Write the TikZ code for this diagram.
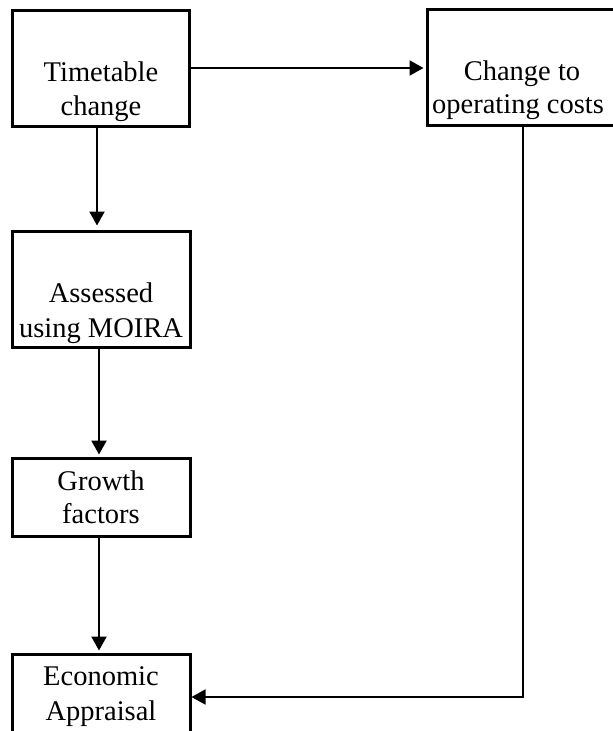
\documentclass[tikz,border=0pt]{standalone}
\usepackage{fontspec}
\setmainfont{Liberation Serif}
\usetikzlibrary{arrows.meta}
\begin{document}
\begin{tikzpicture}[x=1pt,y=-1pt,
  box/.style={draw=black,line width=3pt,rectangle,inner sep=0pt,fill=white},
  lbl/.style={anchor=base,inner sep=0pt,font=\fontsize{28.5}{34}\selectfont},
  arr/.style={draw=black,line width=2.2pt,-{Triangle[length=14pt,width=15pt]}}]
\clip (0,0) rectangle (613,731);
\useasboundingbox (0,0) rectangle (613,731);
% boxes
\node[box,minimum width=177pt,minimum height=116pt] (tt) at (100.5,68) {};
\node[box,minimum width=189pt,minimum height=116pt] (ch) at (521.5,67) {};
\node[box,minimum width=178pt,minimum height=116pt] (as) at (101,289) {};
\node[box,minimum width=178pt,minimum height=78pt] (gr) at (101,497) {};
\node[box,minimum width=178pt,minimum height=86pt] (ec) at (101,697) {};
% labels
\node[lbl] (tt1) at (101,81) {Timetable};
\node[lbl] (tt2) at (101,115) {change};
\node[lbl] (ch1) at (522,80) {Change to};
\node[lbl] (ch2) at (518,113) {operating costs};
\node[lbl] (as1) at (101,302) {Assessed};
\node[lbl] (as2) at (101,337) {using MOIRA};
\node[lbl] (gr1) at (101,490) {Growth};
\node[lbl] (gr2) at (101,523) {factors};
\node[lbl] (ec1) at (101,685) {Economic};
\node[lbl] (ec2) at (101,720) {Appraisal};
% connectors
\draw[arr,shorten >=2pt] ([yshift=0pt]tt.east) -- (tt.east -| ch.west);
\draw[arr,shorten >=4pt] ([xshift=-3.5pt]tt.south) -- ([xshift=-4pt]as.north);
\draw[arr,shorten >=2pt] ([xshift=-2pt]as.south) -- ([xshift=-2pt]gr.north);
\draw[arr,shorten >=2pt] ([xshift=-2pt]gr.south) -- ([xshift=-2pt]ec.north);
\draw[arr,line width=1.8pt] ([xshift=1.5pt]ch.south) |- (ec.east);
\end{tikzpicture}
\end{document}
